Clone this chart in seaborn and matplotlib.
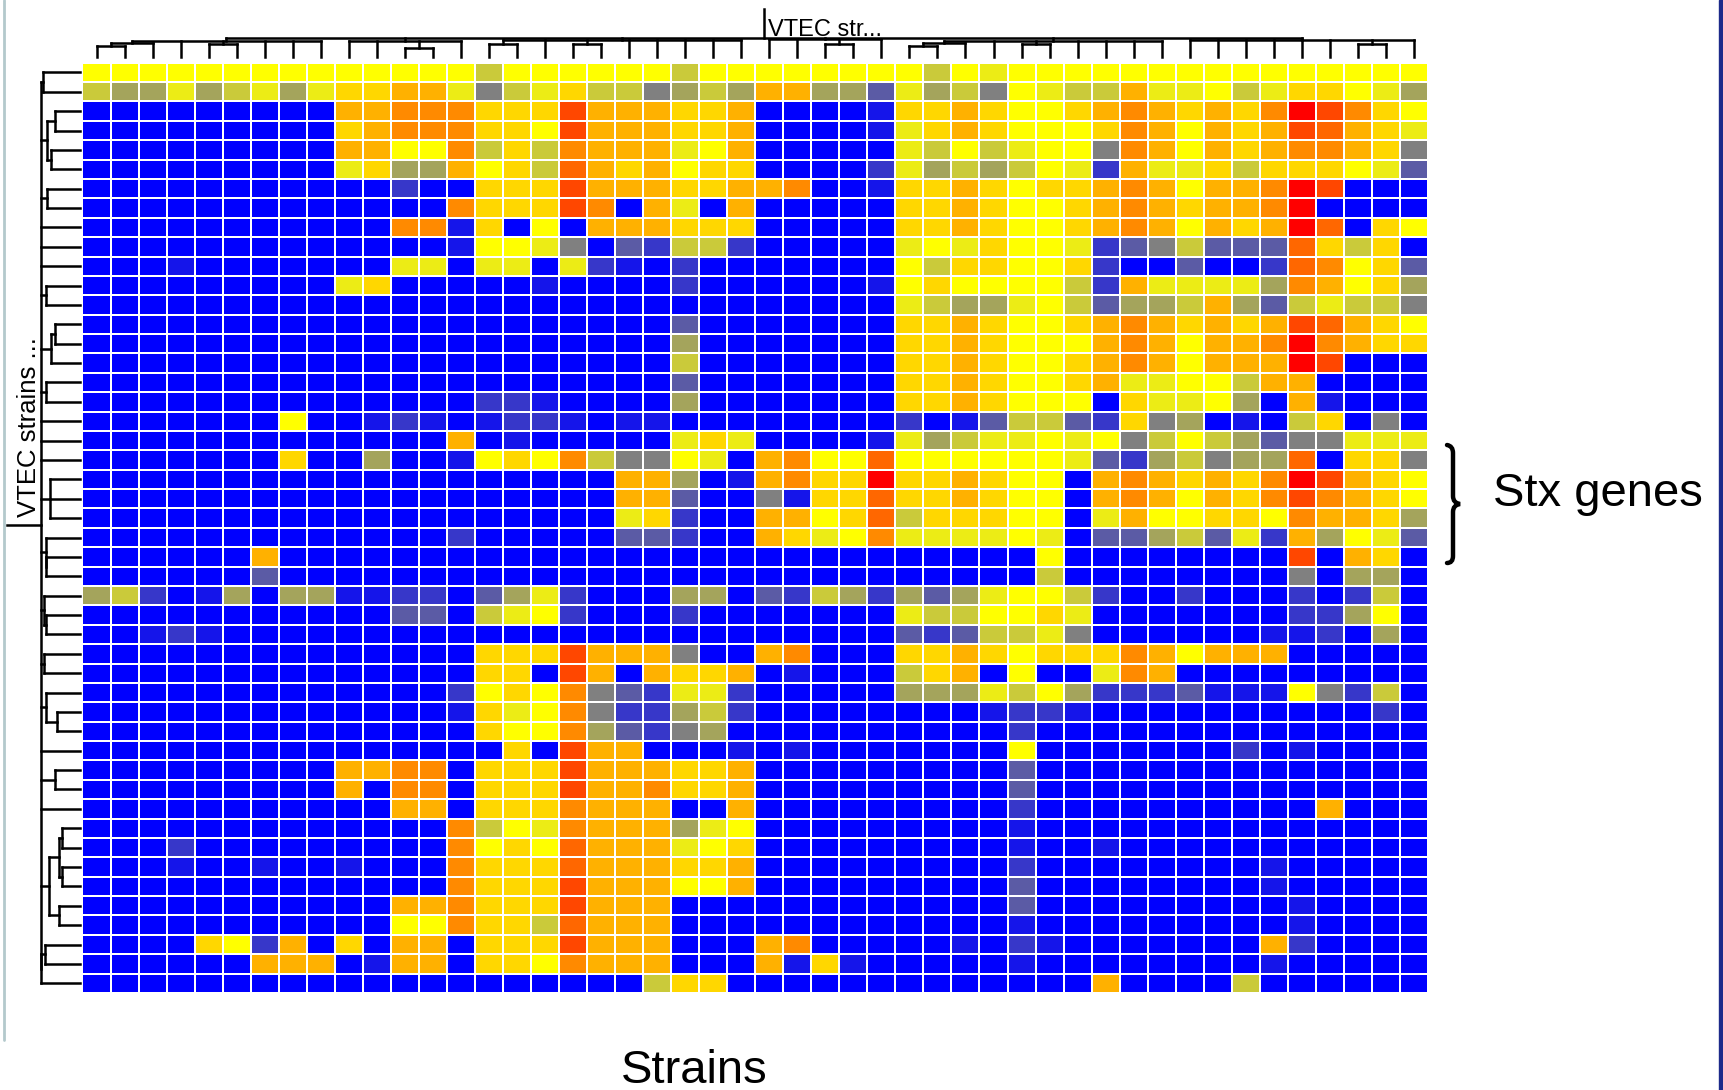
import numpy as np
import matplotlib; matplotlib.use('Agg')
import matplotlib.pyplot as plt
import seaborn as sns
from matplotlib.colors import LinearSegmentedColormap
from matplotlib.path import Path
from matplotlib.patches import PathPatch, Rectangle

# ─────────────────────────────────────────────────────────────────────────────
# DATA  (one string per gene row, one letter per strain)
# ─────────────────────────────────────────────────────────────────────────────
# letter -> expression level (blue = absent ... grey ... yellow ... red = high)
LEVEL = {'B': 0, 'b': 0.4, 's': 1, 'S': 2, 'g': 3, 'o': 4, 'O': 5, 'y': 6,
         'Y': 7, 'G': 8, 'a': 9, 'A': 10, 'r': 10.5, 'R': 11, 'X': 12}

HEAT_ROWS = [
    "YYYYYYYY YYYYYYOY YYYYYOYY YYYYYYOY yYYYYYYY YYYYYYYY",
    "OooyoOyo yGGaaygO yGOOgoOo aaooSyoO gYyOOayy YOyGGYyo",
    "BBBBBBBB BaaAAAGG GRaaaGGa BBBBbGGa GYYGaAaG aGAXRAGY",
    "BBBBBBBB BGaAAAGG YRaaaGGa BBBBbyGa GYYYGAaY aGaRraGy",
    "BBBBBBBB BaaYYAOG OAaaayYa BBBBByOY OyYYgAaY aGaAAaGg",
    "BBBBBBBB ByGooaYG OraGaYGG BBBBsyoO oOYysayy GOGGGYyS",
    "BBBBBBBB BBBsBBGG GRaaaGGa aABBbGGa GYGGaAaY aaAXRBBB",
    "BBBBBBBB BBBBBAGG GRABayBa BBBBBGGa GYYGaAaG aaAXBBBB",
    "BBBBBBBB BBBAAbGB YBaaaGGG BBBBBGGa GYYGaAaY aGaXrBGY",
    "BBBBBBBB BBBBBbYY ygBSsOOs BBBBByYy GYYysSgO SSSrGOGB",
    "BBBbBBBB BBByyByy BysbBsBB BBBBBYOG GYYGsBBS BBsrAYGS",
    "BBBBBBBB ByGBBBBB bBBBBsBB BBBBbYGY YYYOsayy yyoAaYGo",
    "BBBBBBBB BBBBBBBB BBBBBBBB BBBBByOo oyYOSooO aoSOyOOg",
    "BBBBBBBB BBBBBBBB BBBBBSBB BBBBBGGa GYYGaAaG aGaRraGY",
    "BBBBBBBB BBBBBBBB BBBBBoBB BBBBBGGa GYYYaAaY aaAXAaGG",
    "BBBBBBBB BBBBBBBB BBBBBOBB BBBBBGGa GYYGaAaY aaaXRBBB",
    "BBBBBBBB BBBBBBBB BBBBBSBB BBBBBGGa GYYGayyY YOaaBBBB",
    "BBBBBBBB BBBBBBss bBBBBoBB BBBBBGGa GYYYBGyy YoBabBBB",
    "BBBBBBBY BBbsbBbs sbBbbBBB BBBBBsBb SOOSsGgo BbBOGBgB",
    "BBBBBBBB BBBBBaBb BBBBByGy BBBBbyoO yyYyYgOY OoSggyyy",
    "BBBBBBBG BBoBBbYG YAOggYyB aAYYrYYY YYYySsoO goorBGGg",
    "BBBBBBBB BBBBBBBB BBBaaoBb aAGGXGGa GYYBaAaG aGAXRaGY",
    "BBBBBBBB BBBBBBBB BBBaaSBB gbGGrGGa GYYBaAaY aGARAaGY",
    "BBBBBBBB BBBBBBBB BBByGsBB aaYGrOGG GYYByaYY GGYAaaGo",
    "BBBBBBBB BBBBBsBB BBBSSsBB aGyYAyyy yYyBSSoO SysaoYyS",
    "BBBBBBaB BBBBBBBB BBBBBBBB BBBBBBBB BBYBBBBB BBBRBaGB",
    "BBBBBBSB BBBBBBBB BBBBBBBB BBBBBBBB BBOBBBBB BBBgBooB",
    "oOsBboBo obbssBSo ysBBBooB SsOosoSo yYYOsBBs BBBsBsOB",
    "BBBBBBBB BBBSSBOy YsBBBsBB BBBBByOO YYGyBBBB BBBssoYB",
    "BBbsbBBB BBBBBBBB BBBBBBBB BBBBBSsS OOygBBBB BBbbsBoB",
    "BBBBBBBB BBBBBBGG GRaaagBB aABBBGGa GYGGGAaY aaaBBBBB",
    "BBBBBBBB BBBBBBGG BRaBaGGa BbBBBOGa BYBByAaB BBBBBBBB",
    "BBBBBBBB BBBBBsYG YAgSsyys BBBBBooo yOYosssS bbbYgsOB",
    "BBBBBBBB BBBBBbGy YAgssoOs BBBBBBBB bssbBBBB BBBBBBsB",
    "BBBBBBBB BBBBBBGY YAoSsgoB BBBBBBBB BsBBBBBB BBBBBBBB",
    "BBBBBBBB BBBBBBBG BRaaBBBb BbBBBBBB BYBBBBBB BsBbBBBB",
    "BBBBBBBB BaaAABGG GRaaaGGa BBBBBBBB BSBBBBBB BBBBBBBB",
    "BBBBBBBB BaBAABGG GRaaAGGa BBBBBBBB BSBBBBBB BBBBBBBB",
    "BBBBBBBB BBBaaBGG GAaaaBBa BBBBBBBB BsBBBBBB BBBBaBBB",
    "BBBBBBBB BBBBBAOY yAaaaoyY BBBBBBBB BbBBBBBB BBBBBBBB",
    "BBBsBBBB BBBBBAYG YraaayYG BBBBBBBB BbBBbBBB BBBBBBBB",
    "BBBbBBbB BbBBBAGG GraaaGGa BBBBBBBB BsBBBBBB BBbBBBBB",
    "BBBBBBBB BBBBBAGG GRaaaYYa BBBBBBBB BSBBBBBB BBbBBBBB",
    "BBBBBBBB BBBaaAGG GRaaaBBB BBBBBBBB BSBBBBBB BBBbBBBB",
    "BBBBBBBB BBBYYAGG OraaaBBB BBBBBBBB BbBBBBBB BBBbBBBB",
    "BBBBGYsa BGBaaBGG GRaaaBBB aABBBBBb BsbBBBBB BBasBBBB",
    "BBBBBBaa aBbaaBGG YAaaaBBB abGbBBBB BbBBBBBB BBbBBBBB",
    "BBBBBBBB BBBBBBBB BBBBOGGB BBBBBBBB BBBBaBBB BOBBBBBB",
]

# dendrograms: [height, child, child, ...]; ints are leaf indices
COL_TREE = [0.36,
            [0.31, [0.27, [0.21, 0, 1], 2], 3, [0.25, 4, 5], 6, 7, 8],
            [0.30, 9, 10, [0.17, 11, 12], 13],
            [0.32, [0.25, 14, 15], 16, [0.25, 17, 18], 19, 20, 21, 22, 23],
            [0.34, 24, 25, [0.25, 26, 27], 28],
            [0.31, [0.27, [0.21, 29, 30], 31], 32, [0.25, 33, 34], 35, 36, 37, 38],
            [0.33, 39, 40, 41, 42, 43, 44, [0.25, 45, 46], 47]]
COL_ROOT_TOP = 0.92

ROW_TREE = [0.54,
            [0.51, 0, 1],
            [0.45, [0.34, 2, 3], [0.40, 4, 5]],
            [0.45, 6, 7],
            8, 9, 10,
            [0.47, 11, 12],
            [0.40, [0.34, 13, 14], 15],
            [0.47, 16, 17],
            18, 19, 20,
            [0.41, 21, 22, 23],
            [0.47, 24, [0.46, 25, 26]],
            [0.49, 27, [0.46, 28, 29]],
            [0.49, 30, 31],
            [0.46, 32, [0.31, 33, 34]],
            35,
            [0.34, 36, 37],
            38,
            [0.42, [0.29, [0.25, 39, 40], [0.25, 41, 42]], [0.29, 43, 44]],
            [0.53, [0.48, 45, 46], 47]]
ROW_ROOT_TOP = 1.0

COL_LABEL = "VTEC str..."
ROW_LABEL = "VTEC strains ..."
X_LABEL = "Strains"
GROUP_LABEL = "Stx genes"

# ─────────────────────────────────────────────────────────────────────────────
# STYLE
# ─────────────────────────────────────────────────────────────────────────────
LEVEL_COLORS = ['#0000ff', '#3838c8', '#5c5ca4', '#808080', '#a4a45c', '#caca3a',
                '#ecec16', '#ffff00', '#ffd700', '#ffb200', '#ff8c00', '#ff4800', '#ff0000']
cmap = LinearSegmentedColormap.from_list('vtec', LEVEL_COLORS)

sns.set_style('white')
plt.rcParams['font.family'] = ['Liberation Sans', 'DejaVu Sans']
plt.rcParams['text.color'] = 'black'

W, H = 1724, 1090


def box(left, top, right, bottom):
    return [left / W, 1 - bottom / H, (right - left) / W, (bottom - top) / H]


def draw_tree(ax, node, side):
    """Draw a multi-way dendrogram node, return (position, height)."""
    if isinstance(node, int):
        return node + 0.5, 0.0
    h = node[0]
    kids = [draw_tree(ax, k, side) for k in node[1:]]
    pos = [p for p, _ in kids]
    for p, kh in kids:
        seg(ax, [p, p], [kh, h], side)
    seg(ax, [min(pos), max(pos)], [h, h], side)
    return (min(pos) + max(pos)) / 2, h


def seg(ax, pos, hts, side):
    if side == 'top':
        ax.plot(pos, hts, color='black', lw=1.8, solid_capstyle='projecting', clip_on=False)
    else:
        ax.plot(hts, pos, color='black', lw=1.8, solid_capstyle='projecting', clip_on=False)


# ─────────────────────────────────────────────────────────────────────────────
# FIGURE
# ─────────────────────────────────────────────────────────────────────────────
data = np.array([[LEVEL[c] for c in r.replace(" ", "")] for r in HEAT_ROWS], dtype=float)
n_rows, n_cols = data.shape

fig = plt.figure(figsize=(W / 100, H / 100), dpi=100)
fig.patch.set_facecolor('white')

ax_heat = fig.add_axes(box(82.5, 62.7, 1428, 993))
sns.heatmap(data, ax=ax_heat, cmap=cmap, vmin=0, vmax=12, cbar=False,
            linewidths=1.3, linecolor='white', xticklabels=False, yticklabels=False)

# top dendrogram (strains)
ax_top = fig.add_axes(box(82.5, 5, 1428, 57))
ax_top.set_xlim(0, n_cols)
ax_top.set_ylim(0, 1)
ax_top.axis('off')
ax_top.patch.set_alpha(0)
root_x, root_h = draw_tree(ax_top, COL_TREE, 'top')
seg(ax_top, [root_x, root_x], [root_h, COL_ROOT_TOP], 'top')
ax_top.text(root_x + 0.15, 0.40, COL_LABEL, ha='left', va='baseline', fontsize=17, color='black')

# left dendrogram (genes)
ax_left = fig.add_axes(box(7, 62.7, 80, 993))
ax_left.set_xlim(1, 0)
ax_left.set_ylim(n_rows, 0)
ax_left.axis('off')
ax_left.patch.set_alpha(0)
root_y, root_w = draw_tree(ax_left, ROW_TREE, 'left')
seg(ax_left, [root_y, root_y], [root_w, ROW_ROOT_TOP], 'left')
ax_left.text(0.70, root_y - 0.45, ROW_LABEL, rotation=90, ha='center', va='bottom',
             fontsize=18.5, color='black')

# labels
fig.text(694 / W, 1 - 1083 / H, X_LABEL, ha='center', va='baseline', fontsize=34, color='black')
fig.text(1493 / W, 1 - 506 / H, GROUP_LABEL, ha='left', va='baseline', fontsize=34, color='black')

# decorations: brace for the Stx rows and the slide edges
ax_deco = fig.add_axes([0, 0, 1, 1])
ax_deco.set_xlim(0, W)
ax_deco.set_ylim(H, 0)
ax_deco.axis('off')
ax_deco.patch.set_alpha(0)
brace = Path([(1447, 445), (1453, 446), (1453, 453), (1453, 496), (1453, 503), (1460, 504),
              (1453, 505), (1453, 512), (1453, 556), (1453, 563), (1447, 563)],
             [Path.MOVETO, Path.CURVE3, Path.CURVE3, Path.LINETO, Path.CURVE3, Path.CURVE3,
              Path.CURVE3, Path.CURVE3, Path.LINETO, Path.CURVE3, Path.CURVE3])
ax_deco.add_patch(PathPatch(brace, fill=False, lw=3.2, edgecolor='black', capstyle='round'))
ax_deco.plot([4, 4], [0, 1040], color='#b3c9cc', lw=2)
ax_deco.add_patch(Rectangle((1719, 0), 5, H, color='#1c2a8a'))

fig.savefig('out.png', dpi=100, facecolor='white')
